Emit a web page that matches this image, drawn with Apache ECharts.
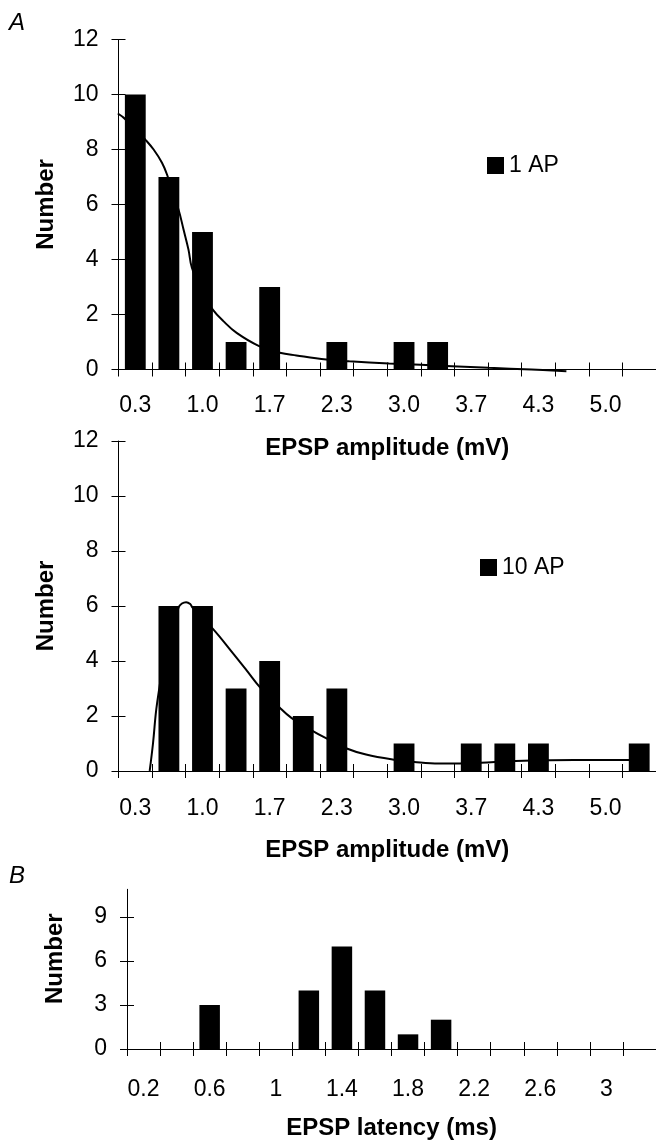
<!DOCTYPE html>
<html><head><meta charset="utf-8">
<script src="https://cdn.jsdelivr.net/npm/echarts@6/dist/echarts.min.js"></script>
<style>html,body{margin:0;padding:0;background:#fff}#c{width:656px;height:1141px}</style>
</head><body><div id="c"></div>
<script>
// ---- data ----
const ampCategories = ['0.3','0.7','1.0','1.3','1.7','2.0','2.3','2.7','3.0','3.3','3.7','4.0','4.3','4.7','5.0','5.3'];
const counts1AP  = [10,7,5,1,3,0,1,0,1,1,0,0,0,0,0,0];
const counts10AP = [0,6,6,3,4,2,3,0,1,0,1,1,1,0,0,1];
// fitted curves: [amplitude (mV), number]
const fit1AP = [[0.16,9.31],[0.22,9.15],[0.32,8.8],[0.433,8.36],[0.515,8.0],[0.598,7.52],[0.648,7.09],[0.762,5.82],[0.812,5.09],[0.861,4.36],[0.895,3.7],[1.0,2.78],[1.102,2.18],[1.207,1.76],[1.339,1.33],[1.562,0.85],[1.767,0.61],[1.932,0.51],[2.228,0.36],[2.457,0.3],[2.852,0.22],[3.475,0.12],[3.841,0.06],[4.265,0.0],[4.611,-0.06]];
const fit10AP = [[0.476,0],[0.509,1.0],[0.549,2.45],[0.65,4.6],[0.762,5.94],[0.796,6.09],[0.838,6.14],[0.878,6.07],[0.901,5.94],[1.108,5.15],[1.305,4.27],[1.438,3.66],[1.569,3.05],[1.767,2.3],[1.882,1.93],[2.096,1.45],[2.211,1.22],[2.431,0.82],[2.623,0.6],[2.886,0.42],[3.1,0.33],[3.347,0.27],[3.554,0.27],[3.759,0.3],[4.104,0.36],[4.446,0.39],[4.927,0.4],[5.322,0.4]];
const latCategories = ['0.2','0.4','0.6','0.8','1','1.2','1.4','1.6','1.8','2','2.2','2.4','2.6','2.8','3','3.2'];
const latCounts = [0,0,3,0,0,4,7,4,1,2,0,0,0,0,0,0];
const latYTicks = [0,3,6,9];

// ---- style ----
const FF = 'Liberation Sans, Arial, Helvetica, sans-serif';
const BLACK = '#000';
const tickLen = 7;
const LBL = 23, TTL = 24;

function catAxisMain(grid, cats, name, labelMargin) {
  return {
    type: 'category', gridIndex: grid, data: cats, position: 'bottom',
    boundaryGap: true,
    axisLine: { show: true, lineStyle: { color: BLACK, width: 1 } },
    axisTick: { show: true, interval: 0, inside: false, length: tickLen, lineStyle: { color: BLACK } },
    axisLabel: { interval: 1, color: BLACK, fontSize: LBL, fontFamily: FF, margin: labelMargin },
    splitLine: { show: false },
    name: name, nameLocation: 'middle', nameGap: 67,
    nameTextStyle: { color: BLACK, fontSize: TTL, fontWeight: 'bold', fontFamily: FF }
  };
}
function catAxisInner(grid, cats) {
  return {
    type: 'category', gridIndex: grid, data: cats, position: 'bottom',
    boundaryGap: true,
    axisLine: { show: false },
    axisTick: { show: true, interval: 0, inside: true, length: tickLen, lineStyle: { color: BLACK } },
    axisLabel: { show: false }, splitLine: { show: false }
  };
}
function valXAxis(grid, n) {
  // hidden value axis aligned with category axis: category i centre at (i+1)/3 mV
  return { type: 'value', gridIndex: grid, show: false, position: 'bottom',
    min: 1/6, max: (n + 0.5) / 3, splitLine: { show: false } };
}
function yMain(grid, extra, namePad) {
  return Object.assign({
    type: 'value', gridIndex: grid, position: 'left',
    axisLine: { show: true, lineStyle: { color: BLACK, width: 1 } },
    axisTick: { show: true, inside: false, length: tickLen, lineStyle: { color: BLACK } },
    axisLabel: { color: BLACK, fontSize: LBL, fontFamily: FF, margin: 20 },
    splitLine: { show: false },
    name: 'Number', nameLocation: 'middle', nameGap: 60,
    nameTextStyle: { color: BLACK, fontSize: TTL, fontWeight: 'bold', fontFamily: FF, padding: namePad || 0 }
  }, extra);
}
function yInner(grid, extra) {
  return Object.assign({
    type: 'value', gridIndex: grid, position: 'left',
    axisLine: { show: false },
    axisTick: { show: true, inside: true, length: tickLen, lineStyle: { color: BLACK } },
    axisLabel: { show: false }, splitLine: { show: false }
  }, extra);
}

const yA = { min: 0, max: 12, interval: 2 };
const yB = { min: 0, max: 10.9,
  axisTick: { show: true, inside: false, length: tickLen, lineStyle: { color: BLACK }, customValues: latYTicks },
  axisLabel: { color: BLACK, fontSize: LBL, fontFamily: FF, margin: 20, customValues: latYTicks } };
const yBInner = { min: 0, max: 10.9,
  axisTick: { show: true, inside: true, length: tickLen, lineStyle: { color: BLACK }, customValues: latYTicks } };

const legendBase = { orient: 'horizontal', icon: 'rect', itemWidth: 17, itemHeight: 17, padding: 0,
  textStyle: { color: BLACK, fontSize: LBL, fontFamily: FF } };

const option = {
  animation: false,
  backgroundColor: '#fff',
  title: [
    { text: 'A', left: 9, top: 11, padding: 0, textStyle: { fontStyle: 'italic', fontWeight: 'normal', fontSize: 24, color: BLACK, fontFamily: FF } },
    { text: 'B', left: 9, top: 864, padding: 0, textStyle: { fontStyle: 'italic', fontWeight: 'normal', fontSize: 24, color: BLACK, fontFamily: FF } }
  ],
  legend: [
    Object.assign({ data: ['1 AP'], left: 487, top: 154 }, legendBase),
    Object.assign({ data: ['10 AP'], left: 480, top: 556 }, legendBase)
  ],
  grid: [
    { left: 118.5, top: 39.5, width: 539.5, height: 330 },
    { left: 118.5, top: 441, width: 539.5, height: 330 },
    { left: 127, top: 889.3, width: 531, height: 162.4 }
  ],
  xAxis: [
    catAxisMain(0, ampCategories, 'EPSP amplitude (mV)', 25),
    catAxisInner(0, ampCategories),
    valXAxis(0, ampCategories.length),
    catAxisMain(1, ampCategories, 'EPSP amplitude (mV)', 26),
    catAxisInner(1, ampCategories),
    valXAxis(1, ampCategories.length),
    catAxisMain(2, latCategories, 'EPSP latency (ms)', 29),
    catAxisInner(2, latCategories)
  ],
  yAxis: [
    yMain(0, yA), yInner(0, yA),
    yMain(1, yA), yInner(1, yA),
    yMain(2, yB, [0, 0, 0, 21]), yInner(2, yBInner)
  ],
  series: [
    { name: '1 AP', type: 'bar', xAxisIndex: 0, yAxisIndex: 0, data: counts1AP, barWidth: '62%',
      itemStyle: { color: BLACK }, z: 3 },
    { name: 'fit 1 AP', type: 'line', xAxisIndex: 2, yAxisIndex: 0, data: fit1AP, smooth: 0.4,
      symbol: 'none', clip: false, lineStyle: { color: BLACK, width: 2 }, itemStyle: { color: BLACK }, z: 2 },
    { name: '10 AP', type: 'bar', xAxisIndex: 3, yAxisIndex: 2, data: counts10AP, barWidth: '62%',
      itemStyle: { color: BLACK }, z: 3 },
    { name: 'fit 10 AP', type: 'line', xAxisIndex: 5, yAxisIndex: 2, data: fit10AP, smooth: 0.4,
      symbol: 'none', clip: false, lineStyle: { color: BLACK, width: 2 }, itemStyle: { color: BLACK }, z: 2 },
    { name: 'latency', type: 'bar', xAxisIndex: 6, yAxisIndex: 4, data: latCounts, barWidth: '62%',
      itemStyle: { color: BLACK }, z: 3 }
  ]
};
const chart = echarts.init(document.getElementById('c'), null, { renderer: 'canvas' });
chart.setOption(option);
</script>
</body></html>
